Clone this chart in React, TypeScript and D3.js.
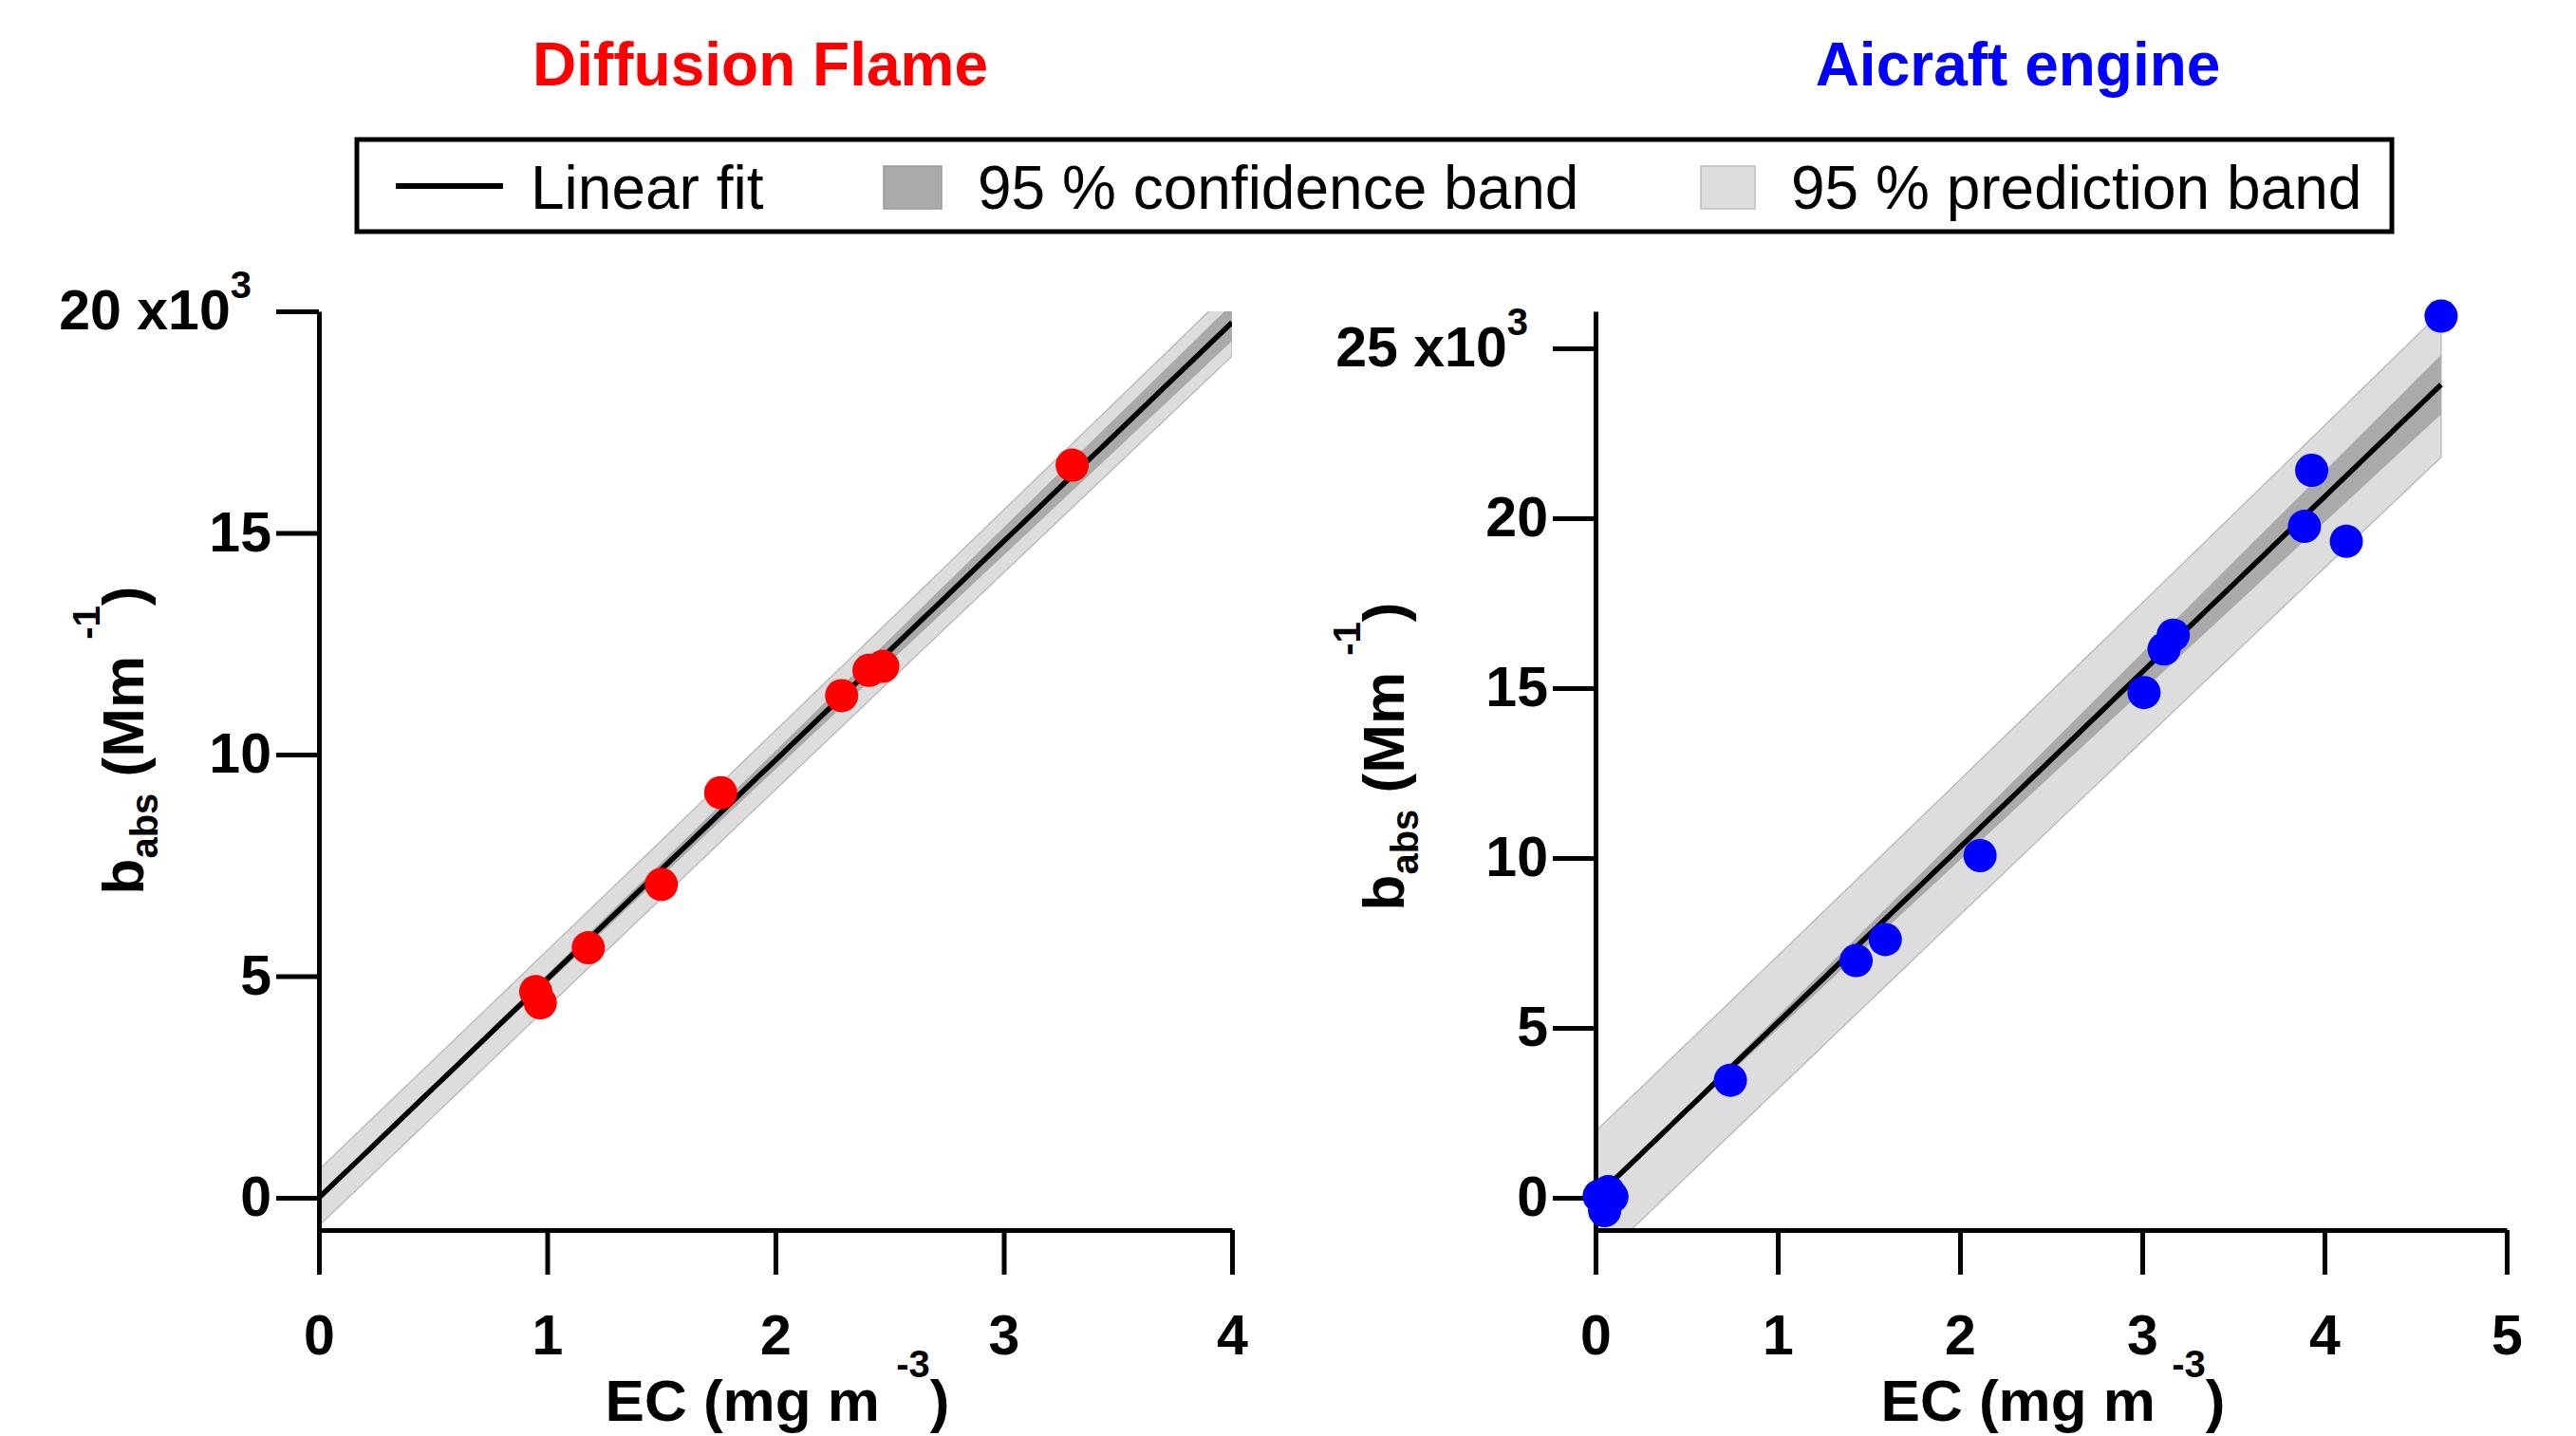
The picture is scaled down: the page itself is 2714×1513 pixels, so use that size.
import React, { useEffect, useRef } from "react";
import * as d3 from "d3";

// EC (mg m-3) vs b_abs (10^3 Mm-1)
const flameEC = [0.95, 0.97, 1.18, 1.5, 1.76, 2.29, 2.41, 2.47, 3.3];
const flameBabs = [4.65, 4.4, 5.64, 7.07, 9.14, 11.33, 11.9, 11.99, 16.53];

const engineEC = [0.02, 0.07, 0.09, 0.05, 0.74, 1.43, 1.59, 2.11, 3.01, 3.12, 3.17, 3.89, 3.93, 4.12, 4.64];
const engineBabs = [0.05, 0.18, 0.03, -0.38, 3.46, 6.98, 7.6, 10.07, 14.87, 16.15, 16.56, 19.76, 21.41, 19.32, 25.95];

const flameXTicks = [0, 1, 2, 3, 4];
const flameYTicks = [0, 5, 10, 15, 20];
const engineXTicks = [0, 1, 2, 3, 4, 5];
const engineYTicks = [0, 5, 10, 15, 20, 25];

const legendLabels = ["Linear fit", "95 % confidence band", "95 % prediction band"];

const FONT = "'Liberation Sans', Arial, Helvetica, sans-serif";

// two-sided 95% Student t quantile (Cornish-Fisher expansion)
function tQuantile975(df) {
  const z = 1.959964;
  const g1 = (z ** 3 + z) / 4;
  const g2 = (5 * z ** 5 + 16 * z ** 3 + 3 * z) / 96;
  const g3 = (3 * z ** 7 + 19 * z ** 5 + 17 * z ** 3 - 15 * z) / 384;
  const g4 = (79 * z ** 9 + 776 * z ** 7 + 1482 * z ** 5 - 1920 * z ** 3 - 945 * z) / 92160;
  return z + g1 / df + g2 / df ** 2 + g3 / df ** 3 + g4 / df ** 4;
}

// linear fit forced through the origin, with confidence / prediction bands
function fitOrigin(xs, ys) {
  const sxx = d3.sum(xs, (x) => x * x);
  const sxy = d3.sum(xs.map((x, i) => x * ys[i]));
  const b = sxy / sxx;
  const df = xs.length - 1;
  const s = Math.sqrt(d3.sum(xs.map((x, i) => (ys[i] - b * x) ** 2)) / df);
  const ts = tQuantile975(df) * s;
  return {
    b,
    conf: (x) => (ts * Math.abs(x)) / Math.sqrt(sxx),
    pred: (x) => ts * Math.sqrt(1 + (x * x) / sxx),
  };
}

const panels = [
  {
    id: "flame",
    title: "Diffusion Flame",
    color: "#ff0000",
    xs: flameEC,
    ys: flameBabs,
    xTicks: flameXTicks,
    yTicks: flameYTicks,
    xDomain: [0, 4],
    yDomain: [-0.728, 20],
    fitRange: [0, 4],
    px: [336, 1298],
    titleX: 801,
    yLabel: [151, 780],
  },
  {
    id: "engine",
    title: "Aicraft engine",
    color: "#0000ff",
    xs: engineEC,
    ys: engineBabs,
    xTicks: engineXTicks,
    yTicks: engineYTicks,
    xDomain: [0, 5],
    yDomain: [-0.95, 26.09],
    fitRange: [0, d3.max(engineEC)],
    px: [1681, 2641],
    titleX: 2126,
    yLabel: [1479, 797],
  },
];

const TOP = 328;
const BOTTOM = 1296;

const App = () => {
  const ref = useRef(null);

  useEffect(() => {
    document.body.style.margin = "0";
    const svg = d3.select(ref.current);
    svg.selectAll("*").remove();
    svg.attr("font-family", FONT);

    panels.forEach((p) => {
      const x = d3.scaleLinear().domain(p.xDomain).range(p.px);
      const y = d3.scaleLinear().domain(p.yDomain).range([BOTTOM, TOP]);
      const fit = fitOrigin(p.xs, p.ys);
      const g = svg.append("g");

      g.append("clipPath")
        .attr("id", "clip-" + p.id)
        .append("rect")
        .attr("x", p.px[0])
        .attr("y", TOP)
        .attr("width", p.px[1] - p.px[0])
        .attr("height", BOTTOM - TOP);

      const samples = d3.range(101).map((i) => p.fitRange[0] + ((p.fitRange[1] - p.fitRange[0]) * i) / 100);
      const bands = g.append("g").attr("clip-path", `url(#clip-${p.id})`);

      const predArea = d3
        .area()
        .x((d) => x(d))
        .y0((d) => y(fit.b * d - fit.pred(d)))
        .y1((d) => y(fit.b * d + fit.pred(d)));
      bands.append("path").attr("d", predArea(samples)).attr("fill", "#dddddd").attr("stroke", "#bdbdbd").attr("stroke-width", 1.5);

      const confArea = d3
        .area()
        .x((d) => x(d))
        .y0((d) => y(fit.b * d - fit.conf(d)))
        .y1((d) => y(fit.b * d + fit.conf(d)));
      bands.append("path").attr("d", confArea(samples)).attr("fill", "#aaaaaa");

      const line = d3
        .line()
        .x((d) => x(d))
        .y((d) => y(fit.b * d));
      bands.append("path").attr("d", line(samples)).attr("fill", "none").attr("stroke", "#000").attr("stroke-width", 5.5);

      // axes
      const xAxis = g
        .append("g")
        .attr("transform", `translate(0,${BOTTOM})`)
        .call(d3.axisBottom(x).tickValues(p.xTicks).tickSize(47).tickSizeOuter(0).tickPadding(42).tickFormat(d3.format("d")));
      const yAxis = g
        .append("g")
        .attr("transform", `translate(${p.px[0]},0)`)
        .call(d3.axisLeft(y).tickValues(p.yTicks).tickSize(45).tickSizeOuter(0).tickPadding(5).tickFormat(d3.format("d")));

      [xAxis, yAxis].forEach((a) => {
        a.attr("font-family", FONT).attr("font-size", 59).attr("font-weight", "bold");
        a.selectAll("path, line").attr("stroke", "#000").attr("stroke-width", 5);
        a.selectAll("text").attr("fill", "#000");
      });

      // top tick carries the x10^3 multiplier
      const topTick = d3.max(p.yTicks);
      yAxis
        .selectAll(".tick text")
        .filter((d) => d === topTick)
        .attr("x", -71)
        .text(null)
        .call((t) => {
          t.append("tspan").text(`${topTick} x10`);
          t.append("tspan").attr("font-size", 40).attr("dy", -33).text("3");
        });

      // points
      g.append("g")
        .selectAll("circle")
        .data(p.xs.map((v, i) => [v, p.ys[i]]))
        .join("circle")
        .attr("cx", (d) => x(d[0]))
        .attr("cy", (d) => y(d[1]))
        .attr("r", 17.5)
        .attr("fill", p.color);

      // title
      g.append("text")
        .attr("x", p.titleX)
        .attr("y", 90)
        .attr("text-anchor", "middle")
        .attr("font-size", 64)
        .attr("font-weight", "bold")
        .attr("fill", p.color)
        .text(p.title);

      // x label
      const xl = g
        .append("text")
        .attr("x", (p.px[0] + p.px[1]) / 2 + 2)
        .attr("y", 1497)
        .attr("text-anchor", "middle")
        .attr("font-size", 62)
        .attr("font-weight", "bold");
      xl.append("tspan").text("EC (mg m ");
      xl.append("tspan").attr("font-size", 40).attr("dy", -46).text("-3");
      xl.append("tspan").attr("dy", 46).text(")");

      // y label
      const yl = g
        .append("text")
        .attr("transform", `translate(${p.yLabel[0]},${p.yLabel[1]}) rotate(-90)`)
        .attr("text-anchor", "middle")
        .attr("font-size", 62)
        .attr("font-weight", "bold");
      yl.append("tspan").text("b");
      yl.append("tspan").attr("font-size", 40).attr("dy", 15).text("abs");
      yl.append("tspan").attr("dy", -15).text(" (Mm ");
      yl.append("tspan").attr("font-size", 40).attr("dy", -46).text("-1");
      yl.append("tspan").attr("dy", 46).text(")");
    });

    // legend
    const lg = svg.append("g").attr("font-size", 64).attr("font-family", FONT);
    lg.append("rect").attr("x", 376).attr("y", 147).attr("width", 2144).attr("height", 97).attr("fill", "#fff").attr("stroke", "#000").attr("stroke-width", 5);
    lg.append("line").attr("x1", 417).attr("x2", 530).attr("y1", 196).attr("y2", 196).attr("stroke", "#000").attr("stroke-width", 6);
    lg.append("rect").attr("x", 931).attr("y", 175).attr("width", 61).attr("height", 45).attr("fill", "#aaaaaa").attr("stroke", "#999").attr("stroke-width", 1.5);
    lg.append("rect").attr("x", 1792).attr("y", 175).attr("width", 57).attr("height", 45).attr("fill", "#dddddd").attr("stroke", "#bdbdbd").attr("stroke-width", 1.5);
    const labelX = [559, 1030, 1887];
    legendLabels.forEach((t, i) => {
      lg.append("text").attr("x", labelX[i]).attr("y", 220).text(t);
    });
  }, []);

  return <svg ref={ref} width={2714} height={1513} style={{ display: "block", background: "#fff" }} />;
};

export default App;
